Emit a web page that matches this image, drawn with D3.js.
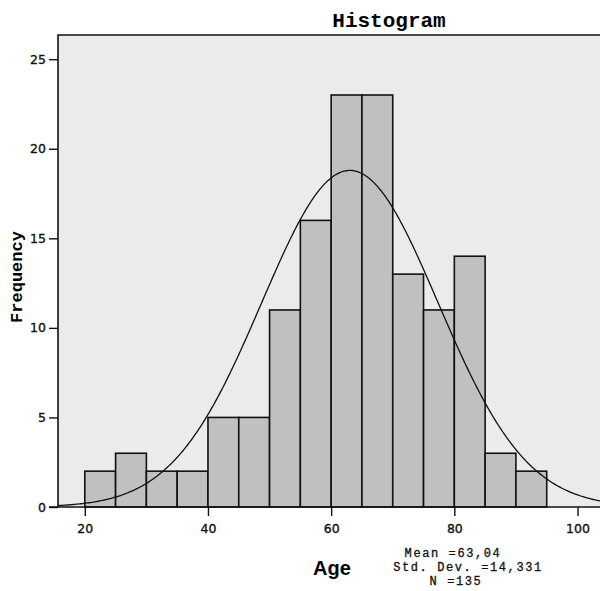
<!DOCTYPE html>
<html>
<head>
<meta charset="utf-8">
<script src="https://cdn.jsdelivr.net/npm/d3@7"></script>
<style>
  body { margin: 0; background: #fff; }
  svg { display: block; }
</style>
</head>
<body>
<div id="chart"></div>
<script>
// bins of 5 years, counts
var binStarts = [20, 25, 30, 35, 40, 45, 50, 55, 60, 65, 70, 75, 80, 85, 90];
var counts    = [2, 3, 2, 2, 5, 5, 11, 16, 23, 23, 13, 11, 14, 3, 2];
var binWidth = 5;
var xTicks = [20, 40, 60, 80, 100];
var yTicks = [0, 5, 10, 15, 20, 25];
var mean = 63.04;
var sd = 14.331;
var n = 135;
var statLines = ["Mean =63,04", "Std. Dev. =14,331", "N =135"];
var statX = [453, 468, 456];

function init(){
    var w = 600;
    var h = 591;
    var left = 58, right = 604, top = 35, bottom = 507;

    var svg = d3.select("#chart")
                .append("svg")
                .attr("width", w)
                .attr("height", h);

    var xscale = d3.scaleLinear()
                    .domain([15.65, 104.3])
                    .range([left, right]);

    var yscale = d3.scaleLinear()
                    .domain([0, 26.35])
                    .range([bottom, top]);

    // plot background
    svg.append("rect")
        .attr("x", left)
        .attr("y", top)
        .attr("width", right - left)
        .attr("height", bottom - top)
        .attr("fill", "#ebebeb");

    // bars
    svg.selectAll("rect.bar")
        .data(counts)
        .enter()
        .append("rect")
        .attr("class", "bar")
        .attr("x", function(d, i) { return xscale(binStarts[i]); })
        .attr("y", function(d) { return yscale(d); })
        .attr("width", function(d, i) { return xscale(binStarts[i] + binWidth) - xscale(binStarts[i]); })
        .attr("height", function(d) { return yscale(0) - yscale(d); })
        .attr("fill", "#c0c0c0")
        .attr("stroke", "#111")
        .attr("stroke-width", 1.6);

    // fitted normal curve, scaled to counts
    var curvePts = d3.range(15.65, 104.4, 0.25).map(function(x) {
        var z = (x - mean) / sd;
        return [x, n * binWidth / (sd * Math.sqrt(2 * Math.PI)) * Math.exp(-0.5 * z * z)];
    });
    svg.append("path")
        .datum(curvePts)
        .attr("fill", "none")
        .attr("stroke", "#111")
        .attr("stroke-width", 1.3)
        .attr("d", d3.line()
            .x(function(d) { return xscale(d[0]); })
            .y(function(d) { return yscale(d[1]); }));

    // frame: top and left
    svg.append("path")
        .attr("d", "M" + right + "," + top + "H" + left + "V" + bottom)
        .attr("fill", "none")
        .attr("stroke", "#111")
        .attr("stroke-width", 1.6);

    // axes
    var xAxis = d3.axisBottom(xscale).tickValues(xTicks).tickSize(9).tickPadding(5);
    var yAxis = d3.axisLeft(yscale).tickValues(yTicks).tickSize(9).tickPadding(3);

    var gx = svg.append("g")
        .attr("transform", "translate(0," + bottom + ")")
        .call(xAxis);
    var gy = svg.append("g")
        .attr("transform", "translate(" + left + ",0)")
        .call(yAxis);

    [gx, gy].forEach(function(g) {
        g.select(".domain").remove();
        g.selectAll(".tick line").attr("stroke", "#111").attr("stroke-width", 1.4);
        g.selectAll("text")
            .attr("fill", "#111")
            .attr("stroke", "#111")
            .attr("stroke-width", 0.35)
            .style("font-family", "'DejaVu Sans', Verdana, sans-serif")
            .style("font-size", "12.5px");
    });
    gx.selectAll("text").attr("dy", "0.95em");

    // x baseline across the full width
    svg.append("line")
        .attr("x1", left - 9).attr("x2", right)
        .attr("y1", bottom).attr("y2", bottom)
        .attr("stroke", "#111")
        .attr("stroke-width", 1.6);

    // title
    svg.append("text")
        .text("Histogram")
        .attr("x", 389)
        .attr("y", 27)
        .attr("text-anchor", "middle")
        .style("font-family", "'Liberation Mono', 'Courier New', monospace")
        .style("font-weight", "bold")
        .style("font-size", "21px");

    // y label
    svg.append("text")
        .text("Frequency")
        .attr("transform", "translate(22,277) rotate(-90)")
        .attr("text-anchor", "middle")
        .style("font-family", "'Liberation Mono', 'Courier New', monospace")
        .style("font-weight", "bold")
        .style("font-size", "17px");

    // x label
    svg.append("text")
        .text("Age")
        .attr("x", 332)
        .attr("y", 575)
        .attr("text-anchor", "middle")
        .style("font-family", "'Liberation Sans', Arial, sans-serif")
        .style("font-weight", "bold")
        .style("font-size", "20px");

    // stats box
    svg.selectAll("text.stat")
        .data(statLines)
        .enter()
        .append("text")
        .attr("class", "stat")
        .text(function(d) { return d; })
        .attr("x", function(d, i) { return statX[i]; })
        .attr("y", function(d, i) { return 557 + i * 14; })
        .attr("text-anchor", "middle")
        .attr("fill", "#111")
        .attr("stroke", "#111")
        .attr("stroke-width", 0.3)
        .style("letter-spacing", "1.6px")
        .style("font-family", "'Liberation Mono', 'Courier New', monospace")
        .style("font-size", "12px");
}
window.onload = init;
</script>
</body>
</html>
